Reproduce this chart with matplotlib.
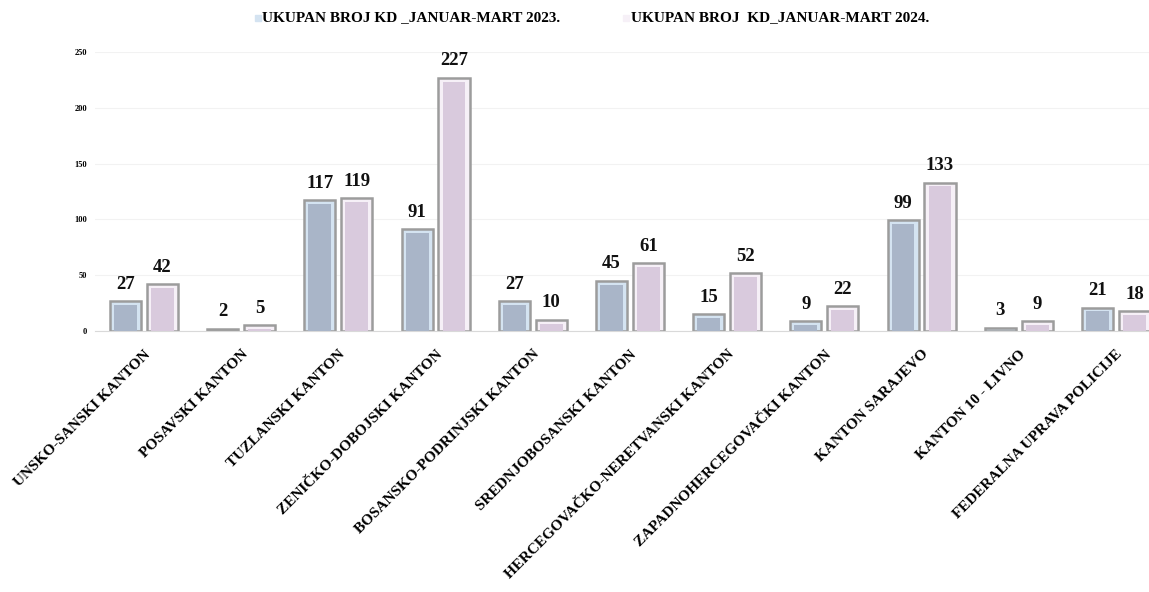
import matplotlib
matplotlib.use("Agg")
import matplotlib.pyplot as plt
import numpy as np

# ── Data ──────────────────────────────────────────────────────────────────────
categories = [
    "UNSKO-SANSKI KANTON",
    "POSAVSKI KANTON",
    "TUZLANSKI KANTON",
    "ZENIČKO-DOBOJSKI KANTON",
    "BOSANSKO-PODRINJSKI KANTON",
    "SREDNJOBOSANSKI KANTON",
    "HERCEGOVAČKO-NERETVANSKI KANTON",
    "ZAPADNOHERCEGOVAČKI KANTON",
    "KANTON SARAJEVO",
    "KANTON 10 - LIVNO",
    "FEDERALNA UPRAVA POLICIJE",
]
kd_2023 = [27, 2, 117, 91, 27, 45, 15, 9, 99, 3, 21]
kd_2024 = [42, 5, 119, 227, 10, 61, 52, 22, 133, 9, 18]
label_2023 = "UKUPAN BROJ KD _JANUAR-MART 2023."
label_2024 = "UKUPAN BROJ  KD_JANUAR-MART 2024."
yticks = [0, 50, 100, 150, 200, 250]

# ── Style ─────────────────────────────────────────────────────────────────────
plt.rcParams["font.family"] = ["Liberation Serif", "DejaVu Serif"]
plt.rcParams["font.weight"] = "bold"

EDGE = "#9c9c9c"
OUTER = ["#d4e3f1", "#f6f0f7"]
INNER = ["#a9b5c8", "#d9cadd"]

fig = plt.figure(figsize=(11.49, 5.92), dpi=100)
ax = fig.add_axes([0.083, 0.4409, 0.9305, 0.4713])

x = np.arange(len(categories))
w = 0.32
off = 0.19

for i, (vals, sign) in enumerate([(kd_2023, -1), (kd_2024, 1)]):
    xs = x + sign * off
    ax.bar(xs, vals, width=w, color=OUTER[i], edgecolor=EDGE, linewidth=1.8,
           zorder=2)
    inner_h = [max(v - 3.5, 0) for v in vals]
    ax.bar(xs, inner_h, width=w - 0.085, color=INNER[i], linewidth=0,
           zorder=3)
    for xi, v in zip(xs, vals):
        ax.annotate(str(v), (xi, v), xytext=(0, 6), textcoords="offset points",
                    ha="center", va="bottom", fontsize=13.5, fontweight="bold",
                    color="#111111")

ax.set_xlim(-0.5, len(categories) - 0.5)
ax.set_ylim(0, 250)
ax.set_yticks(yticks)
ax.set_yticklabels([str(t) for t in yticks], fontsize=6, fontweight="bold")
ax.set_xticks(x)
ax.set_xticklabels(categories, rotation=45, ha="right", rotation_mode="anchor",
                   fontsize=11, fontweight="bold")
ax.tick_params(axis="both", length=0)
ax.tick_params(axis="y", pad=6)
ax.tick_params(axis="x", pad=12)
ax.grid(axis="y", color="#f2f2f2", linewidth=0.8, zorder=0)
ax.set_axisbelow(True)
for s in ["top", "right", "left"]:
    ax.spines[s].set_visible(False)
ax.spines["bottom"].set_color("#d9d9d9")
ax.spines["bottom"].set_linewidth(0.8)

# ── Legend (top) ──────────────────────────────────────────────────────────────
fig.patches.append(plt.Rectangle((255 / 1149, 1 - 21 / 592), 6 / 1149, 6 / 592,
                                 transform=fig.transFigure, color="#d4e3f1"))
fig.text(262 / 1149, 1 - 18 / 592, label_2023, fontsize=11, fontweight="bold",
         va="center", ha="left")
fig.patches.append(plt.Rectangle((623 / 1149, 1 - 21 / 592), 6 / 1149, 6 / 592,
                                 transform=fig.transFigure, color="#f6f0f7"))
fig.text(631 / 1149, 1 - 18 / 592, label_2024, fontsize=11, fontweight="bold",
         va="center", ha="left")

fig.savefig("out.png", dpi=100)
